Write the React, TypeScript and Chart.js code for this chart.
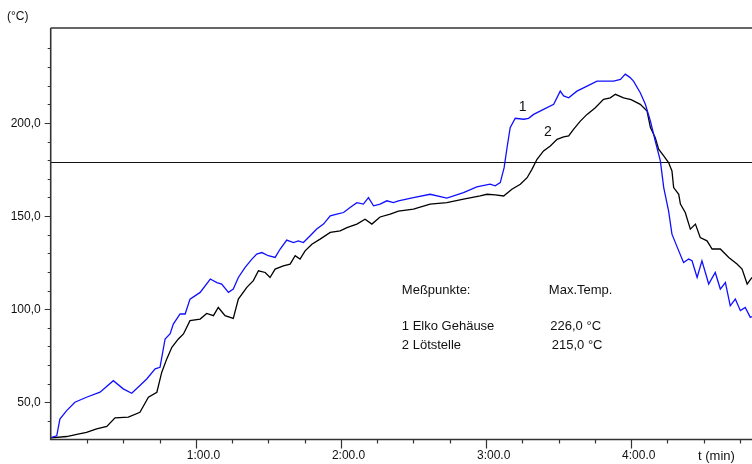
import React, { useEffect, useRef } from "react";
import { Chart, registerables } from "chart.js";

Chart.register(...registerables);

// Measuring point 1 (Elko Gehäuse) – time in seconds, temperature in °C
const elkoTime = [
  0, 2.5, 3.8, 6.6, 10, 14.8, 20.4, 25.9, 30, 33.5, 36.9, 39.7, 43.2, 45.2, 47.3, 49.4,
  50.7, 53.5, 55.6, 57.6, 61.8, 66, 68.7, 70.7, 73.5, 75.5, 77.6, 80.4, 83.2, 85.2, 87.3,
  90, 92.8, 94.9, 97.6, 100.4, 102.4, 104.5, 107.3, 110, 112.8, 115.6, 118.3, 121.1,
  123.8, 126.6, 129.3, 131.4, 133.5, 136.2, 139, 141.7, 143.8, 150, 156.9, 163.8, 170.7,
  176.2, 181.7, 183.8, 185.9, 187.5, 188.7, 190, 192.1, 195.6, 197.6, 199.7, 203.8, 208,
  210.7, 212.1, 214.2, 217.6, 221.8, 225.9, 232.8, 235.6, 237.6, 239.5, 241, 243.8,
  245.9, 248, 250, 252.1, 253.5, 255.5, 256.9, 259.7, 261.7, 263.8, 265.2, 267.3, 269.3,
  272.1, 274.8, 276.9, 279, 281, 283.1, 285.2, 287.2, 289.3, 290,
];
const elkoTemp = [
  31, 32, 41, 45.5, 50, 52.7, 55.4, 61.6, 57.2, 54.8, 59, 62.5, 67.9, 68.8, 84, 86.8,
  92, 97.4, 97.4, 105.4, 109, 116.2, 114.3, 113.5, 109, 110.8, 117, 122.4, 126.9, 129.6,
  130.4, 128.7, 127.8, 132.3, 137.1, 135.8, 136.7, 135.8, 139.4, 143, 145.7, 150.1, 151,
  151.9, 154.6, 157.2, 156.4, 159.9, 155.5, 156.4, 158.2, 157.2, 158.2, 159.9, 161.7,
  159.6, 162.6, 165.7, 167.1, 166.2, 168, 176, 186.7, 197.5, 202.5, 202, 202.5, 204.6,
  207.3, 210, 217.1, 214.5, 213.5, 217.1, 219.8, 222.5, 222.5, 223.4, 226.2, 224.5,
  222.5, 216.2, 210, 201, 190.3, 179.6, 165.3, 152.8, 140.3, 131.3, 125.1, 126.9, 126,
  117, 126, 113.5, 119.7, 110.8, 114.3, 101.8, 105.4, 99.2, 100.9, 95.6, 96,
];

// Measuring point 2 (Lötstelle)
const loetTime = [
  0, 6.6, 10.8, 14.8, 19, 23.2, 26.6, 32.1, 36.9, 40.4, 43.9, 45.9, 48, 50.1, 52.8, 54.9,
  57.6, 61.8, 64.5, 67.3, 69.3, 72.1, 75.5, 77.6, 81.1, 83.8, 85.9, 88.7, 90.7, 92.8,
  96.2, 99, 101.1, 103.1, 105.2, 108, 111.4, 115.6, 119.7, 122.5, 126.6, 130, 132.8,
  136.2, 140.4, 143.8, 150, 156.9, 163.8, 170.7, 177.6, 180.4, 183.8, 187.3, 190.7,
  194.2, 197, 199, 201.1, 203.8, 206.6, 209.4, 212.1, 214.2, 216.2, 219, 221.8, 225.2,
  228.6, 231.4, 233.5, 236.9, 240, 243.8, 246.6, 248, 250, 251.4, 253.5, 255.5, 256.9,
  257.6, 259.7, 260.4, 262.4, 264.5, 266.6, 268.6, 271.4, 273.5, 276.9, 280.4, 283.8,
  285.9, 288, 290,
];
const loetTemp = [
  30.9, 31.6, 32.7, 33.8, 35.7, 37, 41.6, 42, 44.6, 52.7, 55.4, 66, 73.3, 79.5, 84, 86.7,
  93.8, 94.7, 97.7, 96.5, 100.9, 96.5, 95, 105.4, 111.7, 115.3, 120.6, 119.7, 117, 121.5,
  123.3, 124.2, 128.7, 126.9, 131.3, 134.9, 137.6, 141.2, 142.1, 143.8, 145.7, 148.3,
  145.7, 149.5, 151, 152.6, 153.7, 156.4, 157.2, 159.1, 160.8, 161.7, 161.4, 160.8, 164.4,
  167.1, 170.6, 175.1, 180.5, 185, 187.6, 191.2, 192.5, 193, 196.6, 201, 204.6, 208.2,
  212.7, 213.5, 215.4, 213.5, 212.5, 210, 206.4, 197.5, 192.1, 185.9, 182.3, 178.7, 174.2,
  165.3, 161.7, 156.4, 151.9, 143, 145.7, 138.5, 136.7, 132.3, 132.3, 127.8, 124.2,
  121.5, 113.5, 117,
];

// Axis ticks
const yMajorTicks = [50, 100, 150, 200];
const yTickLabels = ["50,0", "100,0", "150,0", "200,0"];
const yMinorTicks = [40, 60, 70, 80, 90, 110, 120, 130, 140, 160, 170, 180, 190, 210, 220, 230, 240];
const xMajorTicks = [60, 120, 180, 240];
const xTickLabels = ["1:00.0", "2:00.0", "3:00.0", "4:00.0"];
const xMinorTicks = [15, 30, 45, 75, 90, 105, 135, 150, 165, 195, 210, 225, 255, 270, 285];

const limitTemp = 179;

// Annotation texts (position in data units: seconds, °C)
const legendHeader = ["Meßpunkte:", "Max.Temp."];
const legendNames = ["1 Elko Gehäuse", "2 Lötstelle"];
const legendMax = ["226,0 °C", "215,0 °C"];
const legendCols = [145.2, 206.0];
const legendMaxCols = [206.6, 207.2];
const legendRows = [110.3, 90.6, 80.4];
const curveLabels = ["1", "2"];
const curveLabelPos = [
  [195.2, 208.7],
  [205.6, 195.3],
];

const FONT = '"Liberation Sans", Arial, sans-serif';

const overlay = {
  id: "overlay",
  beforeDatasetsDraw(chart: any) {
    const { ctx, chartArea: a, scales } = chart;
    const y = scales.y;
    ctx.save();
    const yl = Math.round(y.getPixelForValue(limitTemp)) + 0.5;
    ctx.strokeStyle = "#111";
    ctx.lineWidth = 1.2;
    ctx.beginPath();
    ctx.moveTo(a.left, yl);
    ctx.lineTo(a.right, yl);
    ctx.stroke();
    ctx.restore();
  },
  afterDraw(chart: any) {
    const { ctx, chartArea: a, scales } = chart;
    const x = scales.x;
    const y = scales.y;
    ctx.save();
    ctx.strokeStyle = "#333";
    ctx.lineWidth = 1.6;
    ctx.beginPath();
    ctx.moveTo(a.left, a.top);
    ctx.lineTo(a.right, a.top);
    ctx.moveTo(a.left, a.top);
    ctx.lineTo(a.left, a.bottom);
    ctx.lineTo(a.right, a.bottom);
    ctx.stroke();

    ctx.lineWidth = 1.2;
    ctx.beginPath();
    yMinorTicks.forEach((v) => {
      const p = Math.round(y.getPixelForValue(v)) + 0.5;
      ctx.moveTo(a.left - 3, p);
      ctx.lineTo(a.left, p);
    });
    yMajorTicks.forEach((v) => {
      const p = Math.round(y.getPixelForValue(v)) + 0.5;
      ctx.moveTo(a.left - 6, p);
      ctx.lineTo(a.left, p);
    });
    xMinorTicks.forEach((v) => {
      const p = Math.round(x.getPixelForValue(v)) + 0.5;
      ctx.moveTo(p, a.bottom);
      ctx.lineTo(p, a.bottom + 4);
    });
    xMajorTicks.forEach((v) => {
      const p = Math.round(x.getPixelForValue(v)) + 0.5;
      ctx.moveTo(p, a.bottom);
      ctx.lineTo(p, a.bottom + 9);
    });
    ctx.stroke();

    ctx.fillStyle = "#111";
    ctx.font = `12px ${FONT}`;
    ctx.textBaseline = "middle";
    ctx.textAlign = "right";
    yMajorTicks.forEach((v, i) => {
      ctx.fillText(yTickLabels[i], a.left - 10, y.getPixelForValue(v) + 0.5);
    });
    ctx.textAlign = "left";
    xMajorTicks.forEach((v, i) => {
      ctx.fillText(xTickLabels[i], x.getPixelForValue(v) - 9, a.bottom + 16);
    });

    ctx.font = `12px ${FONT}`;
    ctx.fillText("(°C)", 7, 17);
    ctx.font = `13px ${FONT}`;
    ctx.fillText("t (min)", 698, 456);

    // legend block
    ctx.font = `13px ${FONT}`;
    ctx.fillText(legendHeader[0], x.getPixelForValue(legendCols[0]), y.getPixelForValue(legendRows[0]));
    ctx.fillText(legendHeader[1], x.getPixelForValue(legendCols[1]), y.getPixelForValue(legendRows[0]));
    legendNames.forEach((n, i) => {
      ctx.fillText(n, x.getPixelForValue(legendCols[0]), y.getPixelForValue(legendRows[i + 1]));
      ctx.fillText(legendMax[i], x.getPixelForValue(legendMaxCols[i]), y.getPixelForValue(legendRows[i + 1]));
    });

    ctx.textAlign = "center";
    ctx.font = `14px ${FONT}`;
    curveLabels.forEach((t, i) => {
      ctx.fillText(t, x.getPixelForValue(curveLabelPos[i][0]), y.getPixelForValue(curveLabelPos[i][1]));
    });
    ctx.restore();
  },
};

export default function App() {
  const ref = useRef<HTMLCanvasElement | null>(null);
  useEffect(() => {
    if (!ref.current) return;
    const chart = new Chart(ref.current, {
      type: "line",
      data: {
        datasets: [
          {
            label: "1 Elko Gehäuse",
            data: elkoTime.map((t, i) => ({ x: t, y: elkoTemp[i] })),
            borderColor: "#1010ff",
            borderWidth: 1.3,
            pointRadius: 0,
            tension: 0,
            fill: false,
          },
          {
            label: "2 Lötstelle",
            data: loetTime.map((t, i) => ({ x: t, y: loetTemp[i] })),
            borderColor: "#000000",
            borderWidth: 1.3,
            pointRadius: 0,
            tension: 0,
            fill: false,
          },
        ],
      },
      options: {
        animation: false,
        responsive: false,
        devicePixelRatio: 1,
        layout: { padding: { left: 50.7, top: 28, right: 0, bottom: 24.5 } },
        plugins: { legend: { display: false }, tooltip: { enabled: false } },
        scales: {
          x: { type: "linear", min: 0, max: 290, display: false },
          y: { type: "linear", min: 30, max: 251, display: false },
        },
      },
      plugins: [overlay],
    });
    return () => chart.destroy();
  }, []);
  return (
    <div style={{ position: "absolute", left: 0, top: 0, width: 752, height: 464, background: "#fff" }}>
      <canvas ref={ref} width={752} height={464} />
    </div>
  );
}
